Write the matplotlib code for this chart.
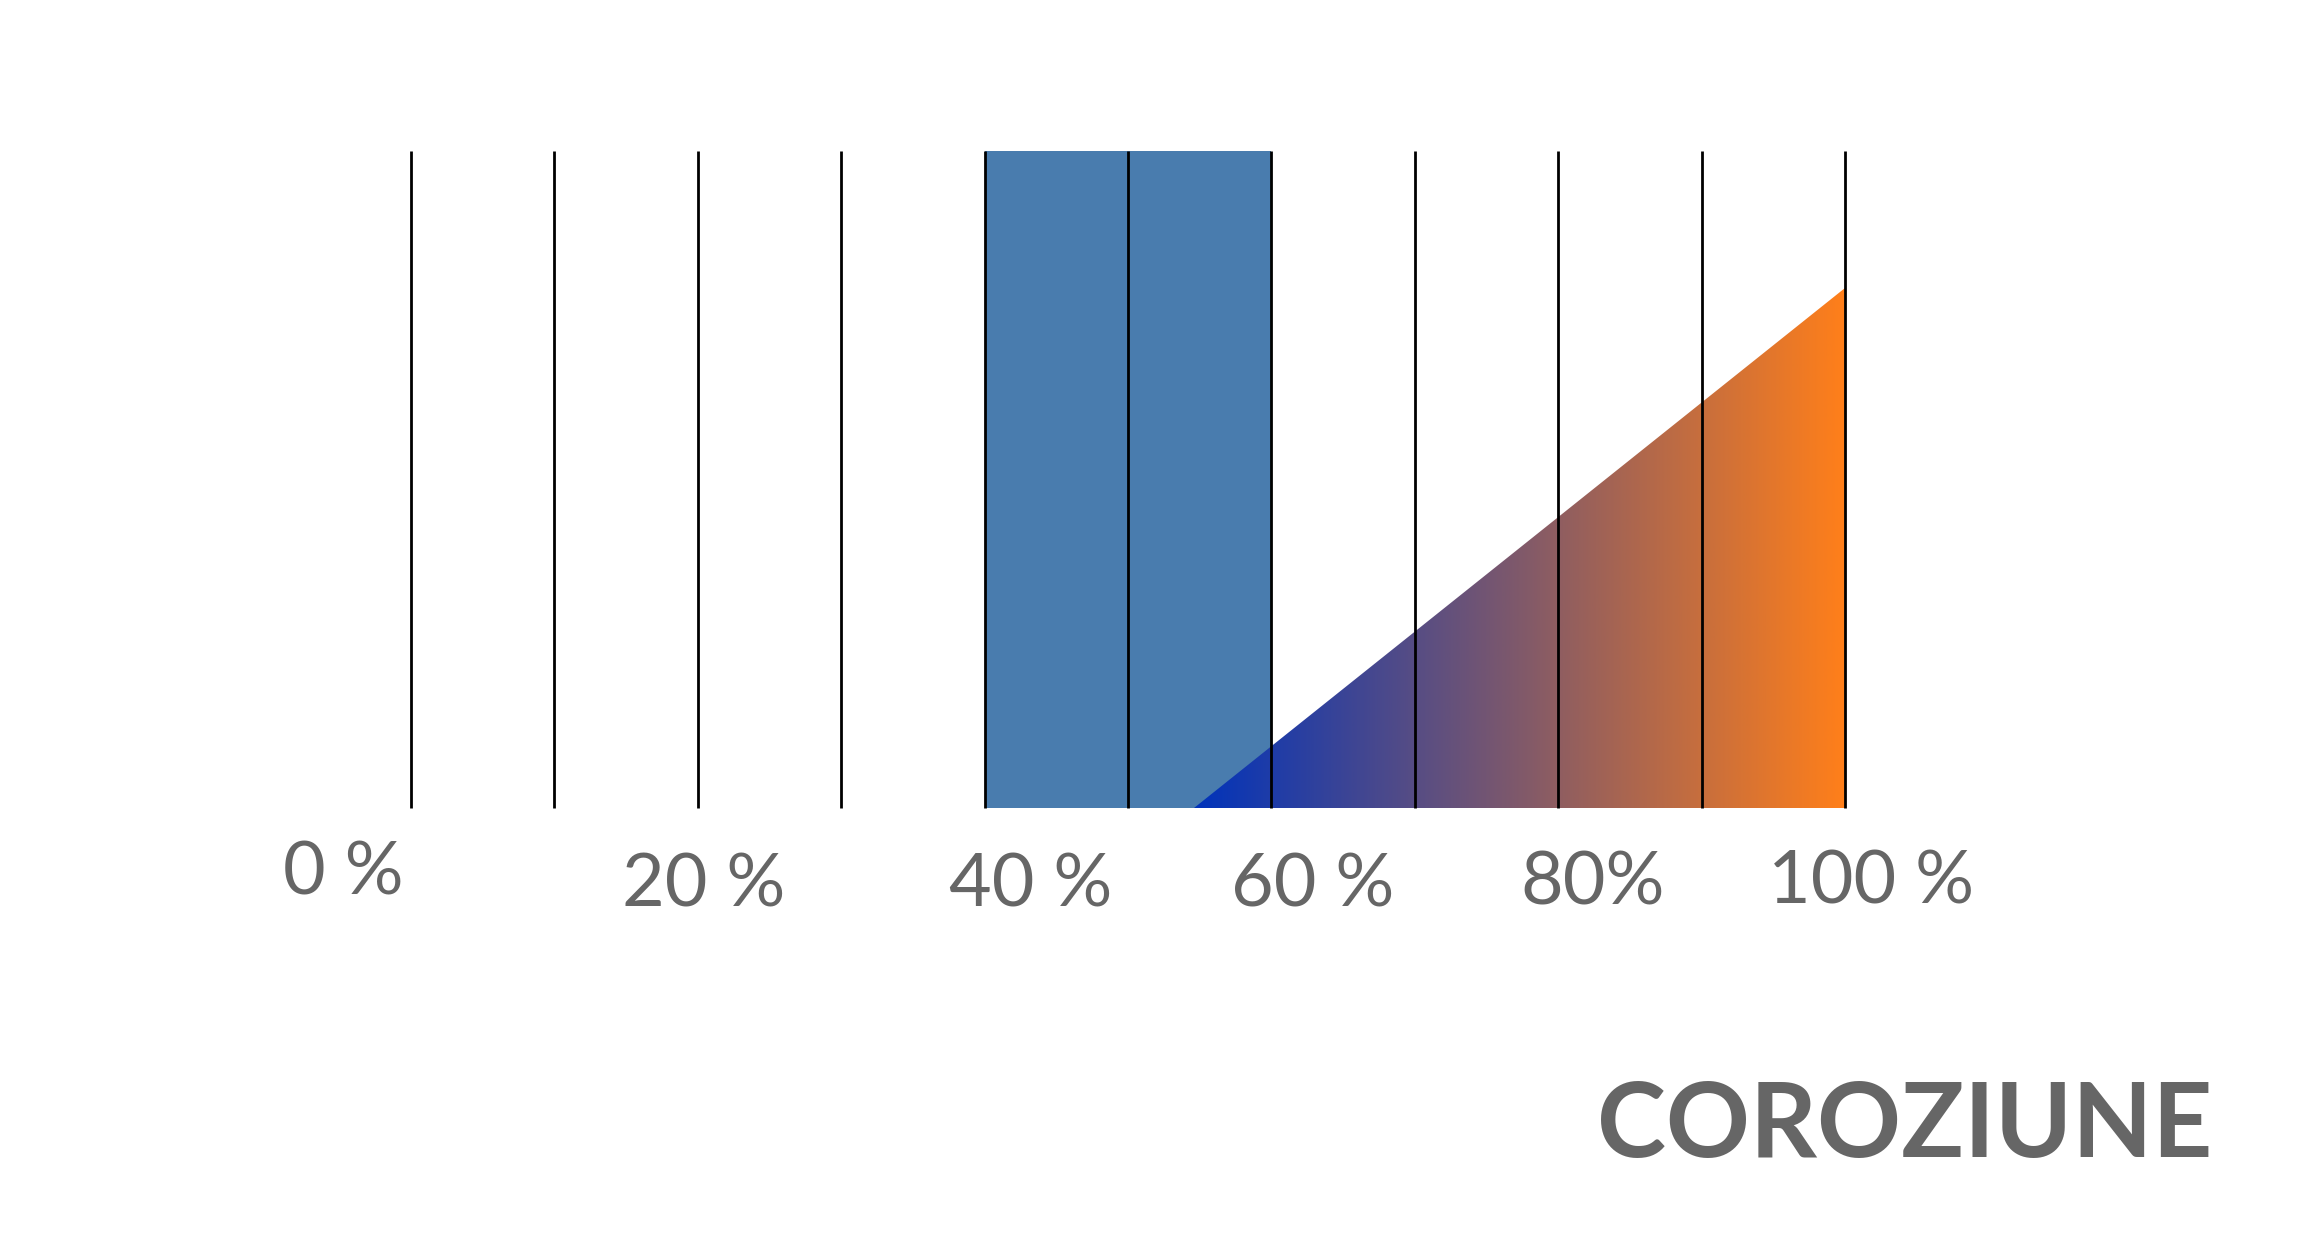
import numpy as np
import matplotlib.pyplot as plt
from matplotlib.colors import LinearSegmentedColormap
from matplotlib.patches import Polygon
from matplotlib.transforms import blended_transform_factory

# scale 0..100 %, one line every 10 %
scale_lines = list(range(0, 101, 10))
tick_values = [0, 20, 40, 60, 80, 100]
tick_labels = ['0 %', '20 %', '40 %', '60 %', '80%', '100 %']

# blue band (full height) and the rising wedge
band_start = 40
band_end = 60
wedge_x = [54.6, 100]
wedge_top = 0.791

title = 'COROZIUNE'

# label placement (hand tuned, labels are not centred on the lines)
label_x = [-4.7, 20.4, 43.2, 62.9, 82.4, 101.8]
label_y = [0.2832, 0.2736, 0.2736, 0.2736, 0.2751, 0.2761]

grey = '#666666'
fig = plt.figure(figsize=(23.18, 12.48), dpi=100)
ax = fig.add_axes([0.1773, 0.3526, 0.6186, 0.5264])
ax.axis('off')

ax.axvspan(band_start, band_end, ymin=0, ymax=1, color='#497CAE', lw=0, zorder=1)

# gradient wedge: horizontal gradient image clipped by the triangle
cmap = LinearSegmentedColormap.from_list('wedge', ['#0033BB', '#FF7F1A'])
grad = np.linspace(0, 1, 512).reshape(1, -1)
im = ax.imshow(grad, cmap=cmap, aspect='auto', zorder=2,
               extent=[wedge_x[0], wedge_x[1], 0, wedge_top])
tri = Polygon([[wedge_x[0], 0], [wedge_x[1], 0], [wedge_x[1], wedge_top]],
              closed=True, fc='none', ec='none', transform=ax.transData)
ax.add_patch(tri)
im.set_clip_path(tri)
ax.set_xlim(0, 100)
ax.set_ylim(0, 1)

ax.vlines(scale_lines, 0, 1, colors='black', lw=2, zorder=3, clip_on=False)

trans = blended_transform_factory(ax.transData, fig.transFigure)
for v, lab, x, y in zip(tick_values, tick_labels, label_x, label_y):
    ax.text(x, y, lab, transform=trans, ha='center', va='baseline',
            fontsize=53, color=grey, family='Lato', clip_on=False)

fig.text(0.9543, 0.0733, title, ha='right', va='baseline', fontsize=75,
         fontweight='bold', color=grey, family='Lato')

fig.savefig('out.png', dpi=100, facecolor='white')
